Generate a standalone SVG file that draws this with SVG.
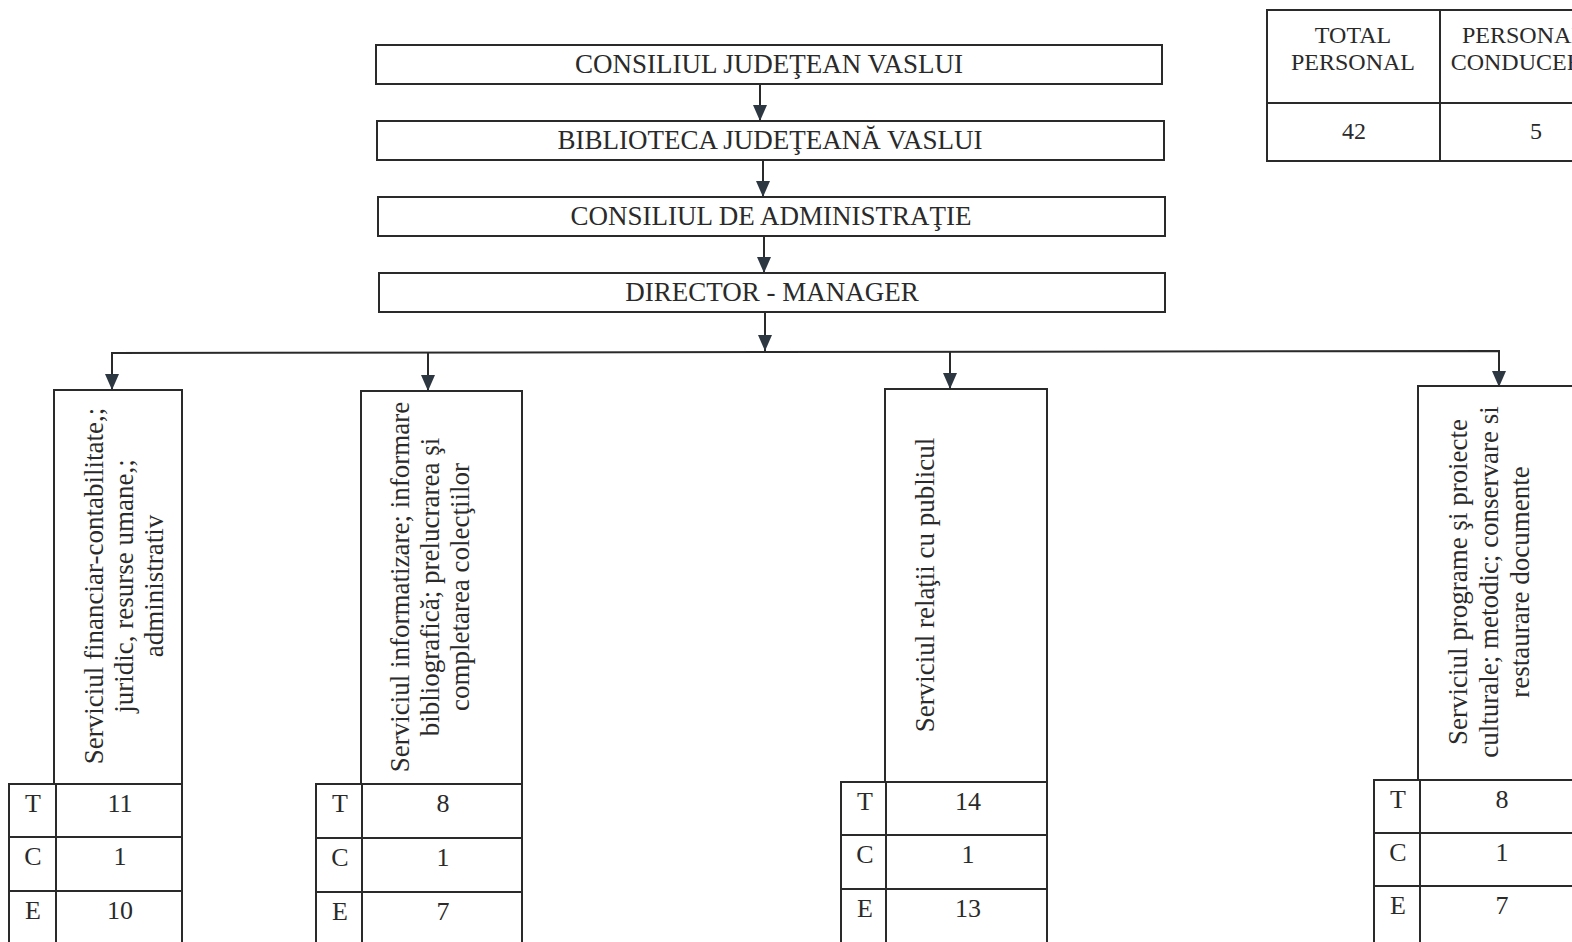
<svg xmlns="http://www.w3.org/2000/svg" width="1572" height="942" viewBox="0 0 1572 942">
<defs>
<style>
.b{fill:#fff;stroke:#2a2a2a;stroke-width:2}
.l{fill:none;stroke:#2a2a2a;stroke-width:2}
.t{font-family:"Liberation Serif","Times New Roman",serif;font-size:27px;fill:#2a2a2a;text-anchor:middle}
.n{font-family:"Liberation Serif","Times New Roman",serif;font-size:26px;fill:#2a2a2a;text-anchor:middle}
.h{font-family:"Liberation Serif","Times New Roman",serif;font-size:24px;fill:#2a2a2a;text-anchor:middle}
</style>
<marker id="a" viewBox="0 0 16 14" refX="16" refY="7" markerWidth="16" markerHeight="14" markerUnits="userSpaceOnUse" orient="auto">
<path d="M0,0 L16,7 L0,14 Z" fill="#2d3742"/>
</marker>
</defs>
<rect width="1572" height="942" fill="#fff"/>

<g id="summary">
<rect class="b" x="1267" y="10" width="330" height="151"/>
<line class="l" x1="1440" y1="10" x2="1440" y2="161"/>
<line class="l" x1="1267" y1="103" x2="1597" y2="103"/>
<text class="h" x="1353" y="43">TOTAL</text>
<text class="h" x="1353" y="70">PERSONAL</text>
<text class="h" x="1354" y="139">42</text>
<text class="h" x="1524" y="43">PERSONAL</text>
<text class="h" x="1524" y="70">CONDUCERE</text>
<text class="h" x="1536" y="139">5</text>
</g>

<g id="n1">
<rect class="b" x="376" y="45" width="786" height="39"/>
<text class="t" x="769" y="73">CONSILIUL JUDEŢEAN VASLUI</text>
</g>
<g id="n2">
<rect class="b" x="377" y="121" width="787" height="39"/>
<text class="t" x="770" y="149">BIBLIOTECA JUDEŢEANĂ VASLUI</text>
</g>
<g id="n3">
<rect class="b" x="378" y="197" width="787" height="39"/>
<text class="t" x="771" y="225">CONSILIUL DE ADMINISTRAŢIE</text>
</g>
<g id="n4">
<rect class="b" x="379" y="273" width="786" height="39"/>
<text class="t" x="772" y="301">DIRECTOR - MANAGER</text>
</g>

<g id="connectors">
<line class="l" x1="760" y1="84" x2="760" y2="121" marker-end="url(#a)"/>
<line class="l" x1="763" y1="160" x2="763" y2="197" marker-end="url(#a)"/>
<line class="l" x1="764" y1="236" x2="764" y2="273" marker-end="url(#a)"/>
<line class="l" x1="765" y1="312" x2="765" y2="351" marker-end="url(#a)"/>
<polyline class="l" points="112,370 112,353 1499,351 1499,370"/>
<line class="l" x1="112" y1="353" x2="112" y2="390" marker-end="url(#a)"/>
<line class="l" x1="428" y1="352" x2="428" y2="391" marker-end="url(#a)"/>
<line class="l" x1="950" y1="352" x2="950" y2="389" marker-end="url(#a)"/>
<line class="l" x1="1499" y1="351" x2="1499" y2="387" marker-end="url(#a)"/>
</g>

<g id="s1">
<rect class="b" x="54" y="390" width="128" height="394"/>
<text class="t" transform="translate(0,586) rotate(-90)"><tspan x="0" y="103">Serviciul financiar-contabilitate,;</tspan><tspan x="0" y="133">juridic, resurse umane,;</tspan><tspan x="0" y="163">administrativ</tspan></text>
<rect class="b" x="9" y="784" width="173" height="170"/>
<line class="l" x1="56" y1="784" x2="56" y2="954"/>
<line class="l" x1="9" y1="837" x2="182" y2="837"/>
<line class="l" x1="9" y1="891" x2="182" y2="891"/>
<text class="n" x="33" y="812">T</text><text class="n" x="120" y="812">11</text>
<text class="n" x="33" y="865">C</text><text class="n" x="120" y="865">1</text>
<text class="n" x="33" y="919">E</text><text class="n" x="120" y="919">10</text>
</g>

<g id="s2">
<rect class="b" x="361" y="391" width="161" height="393"/>
<text class="t" transform="translate(0,587) rotate(-90)"><tspan x="0" y="409">Serviciul informatizare; informare</tspan><tspan x="0" y="439">bibliografică; prelucrarea şi</tspan><tspan x="0" y="469">completarea colecţiilor</tspan></text>
<rect class="b" x="316" y="784" width="206" height="170"/>
<line class="l" x1="362" y1="784" x2="362" y2="954"/>
<line class="l" x1="316" y1="838" x2="522" y2="838"/>
<line class="l" x1="316" y1="892" x2="522" y2="892"/>
<text class="n" x="340" y="812">T</text><text class="n" x="443" y="812">8</text>
<text class="n" x="340" y="866">C</text><text class="n" x="443" y="866">1</text>
<text class="n" x="340" y="920">E</text><text class="n" x="443" y="920">7</text>
</g>

<g id="s3">
<rect class="b" x="885" y="389" width="162" height="393"/>
<text class="t" transform="translate(0,585) rotate(-90)"><tspan x="0" y="934">Serviciul relaţii cu publicul</tspan></text>
<rect class="b" x="841" y="782" width="206" height="172"/>
<line class="l" x1="886" y1="782" x2="886" y2="954"/>
<line class="l" x1="841" y1="835" x2="1047" y2="835"/>
<line class="l" x1="841" y1="889" x2="1047" y2="889"/>
<text class="n" x="865" y="810">T</text><text class="n" x="968" y="810">14</text>
<text class="n" x="865" y="863">C</text><text class="n" x="968" y="863">1</text>
<text class="n" x="865" y="917">E</text><text class="n" x="968" y="917">13</text>
</g>

<g id="s4">
<rect class="b" x="1418" y="386" width="164" height="394"/>
<text class="t" transform="translate(0,582) rotate(-90)"><tspan x="0" y="1467">Serviciul  programe şi proiecte</tspan><tspan x="0" y="1498">culturale; metodic; conservare si</tspan><tspan x="0" y="1529">restaurare documente</tspan></text>
<rect class="b" x="1374" y="780" width="208" height="174"/>
<line class="l" x1="1420" y1="780" x2="1420" y2="954"/>
<line class="l" x1="1374" y1="833" x2="1582" y2="833"/>
<line class="l" x1="1374" y1="886" x2="1582" y2="886"/>
<text class="n" x="1398" y="808">T</text><text class="n" x="1502" y="808">8</text>
<text class="n" x="1398" y="861">C</text><text class="n" x="1502" y="861">1</text>
<text class="n" x="1398" y="914">E</text><text class="n" x="1502" y="914">7</text>
</g>
</svg>
